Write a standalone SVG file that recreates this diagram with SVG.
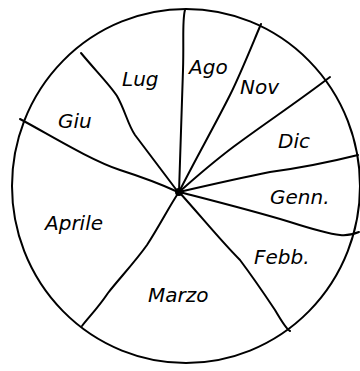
<svg xmlns="http://www.w3.org/2000/svg" width="360" height="371" viewBox="0 0 360 371">
<style>
.l{fill:none;stroke:#000;stroke-width:2;stroke-linecap:round;stroke-linejoin:round}
text{font-family:"DejaVu Sans","Liberation Sans",sans-serif;font-style:italic;font-size:20px;fill:#000}
</style>
<rect width="360" height="371" fill="#fff"/>
<g id="connectors">
<ellipse class="l" cx="186" cy="186" rx="174" ry="177"/>
<path class="l" d="M20,119 C50,135 90,160 120,170 C145,178 165,186 178,192"/>
<path class="l" d="M81,53 C95,70 110,85 117,96 C125,110 128,125 135,135 C150,155 165,175 178,192"/>
<path class="l" d="M185,10 C182,20 184,40 183,70 C182,110 180,150 179,192"/>
<path class="l" d="M261,24 C250,50 240,75 230,95 C215,125 195,160 179,192"/>
<path class="l" d="M330,77 C300,100 270,120 240,142 C215,160 195,178 179,192"/>
<path class="l" d="M358,155 C330,162 300,168 270,172 C240,178 205,186 179,192"/>
<path class="l" d="M179,192 C210,200 250,210 290,222 C315,230 330,234 340,235 C348,236 354,234 359,232"/>
<path class="l" d="M179,192 C200,215 220,240 240,260 C255,280 265,295 275,310 C282,322 288,330 290,331"/>
<path class="l" d="M179,192 C170,205 160,225 147,245 C135,262 118,280 108,293 C98,308 88,318 82,326"/>
<circle class="l" cx="179" cy="192" r="3"/>
</g>
<g id="giu"><text x="58" y="128">Giu</text></g>
<g id="lug"><text x="122" y="86">Lug</text></g>
<g id="ago"><text x="189" y="74">Ago</text></g>
<g id="nov"><text x="240" y="94">Nov</text></g>
<g id="dic"><text x="278" y="148">Dic</text></g>
<g id="genn"><text x="270" y="204">Genn.</text></g>
<g id="febb"><text x="254" y="264">Febb.</text></g>
<g id="marzo"><text x="148" y="302">Marzo</text></g>
<g id="aprile"><text x="45" y="230">Aprile</text></g>
</svg>
